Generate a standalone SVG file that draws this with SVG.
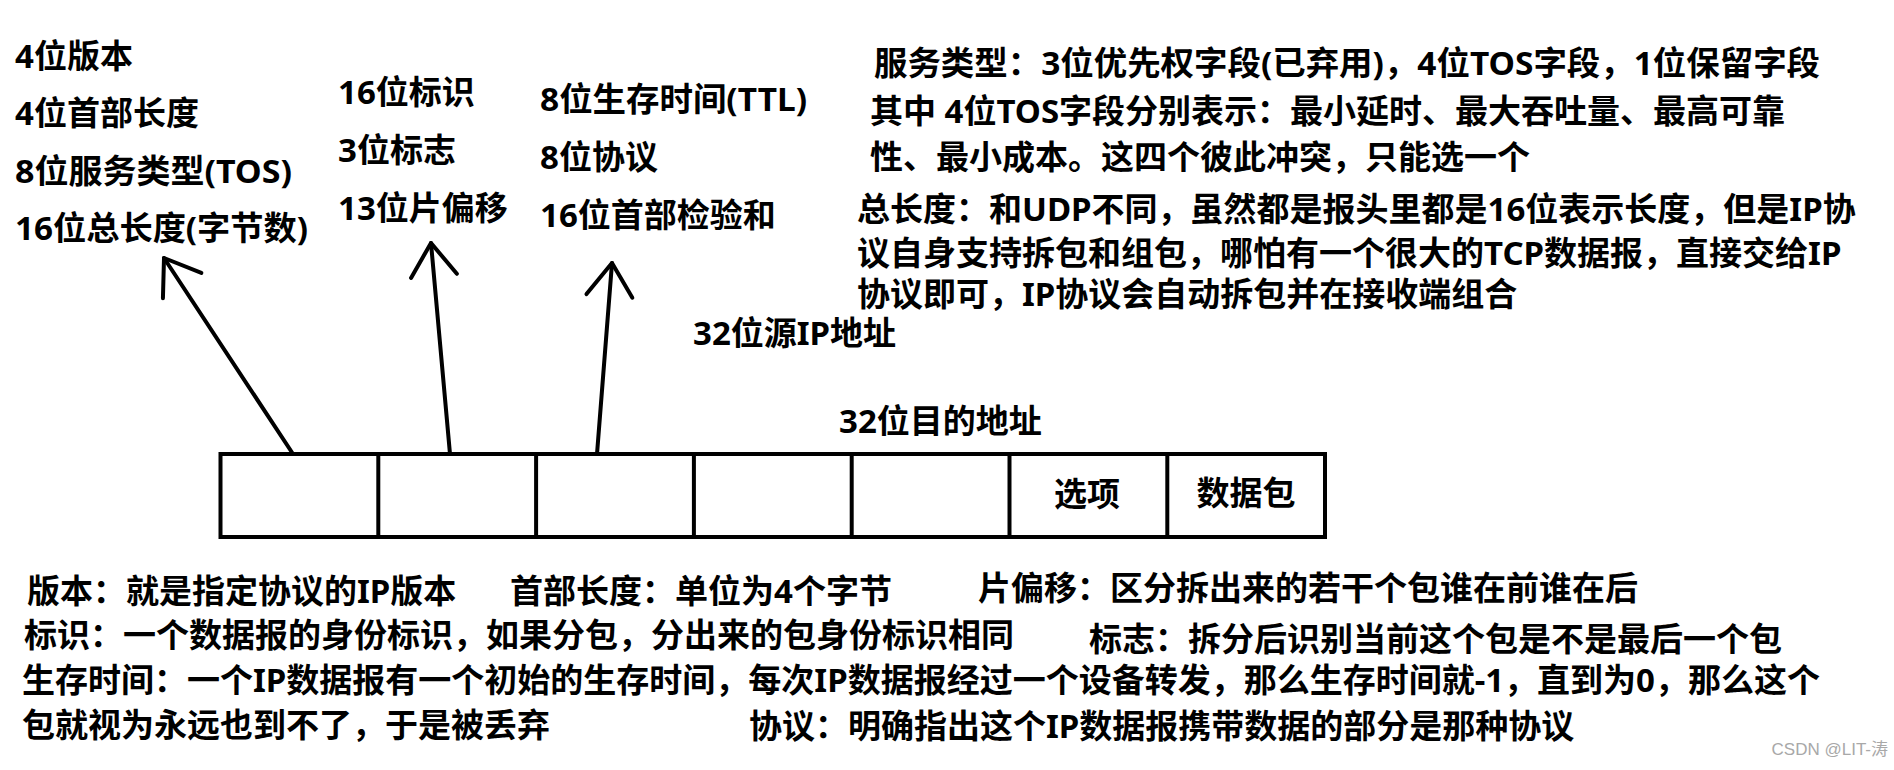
<svg xmlns="http://www.w3.org/2000/svg" width="1894" height="770" viewBox="0 0 1894 770">
<style>
  text { font-family: "Noto Sans", "Noto Sans CJK SC", sans-serif; font-weight: bold; font-size: 33px; fill: #000; }
  .cell { fill: #fff; stroke: #000; stroke-width: 4; }
  .div { stroke: #000; stroke-width: 4; }
  .arrow { fill: none; stroke: #000; stroke-width: 4; stroke-linecap: round; }
  .mark { font-family: "Liberation Sans", "Noto Sans CJK SC", sans-serif; font-weight: normal; font-size: 17px; fill: #a8a8a8; }
</style>
<defs>
  <marker id="vhead" markerUnits="userSpaceOnUse" viewBox="-40 -28 46 56" refX="0" refY="0" markerWidth="46" markerHeight="56" orient="auto" overflow="visible">
    <path d="M -33 -23 L 0 0 L -33 23" fill="none" stroke="#000" stroke-width="4" stroke-linecap="round" stroke-linejoin="round"/>
  </marker>
</defs>
<rect width="1894" height="770" fill="#fff"/>

<g id="labels-col1">
  <text x="15" y="67.5">4位版本</text>
  <text x="15" y="125">4位首部长度</text>
  <text x="15" y="182.5" textLength="277" lengthAdjust="spacingAndGlyphs">8位服务类型(TOS)</text>
  <text x="15" y="240" textLength="293" lengthAdjust="spacingAndGlyphs">16位总长度(字节数)</text>
</g>
<g id="labels-col2">
  <text x="338" y="104">16位标识</text>
  <text x="338" y="162">3位标志</text>
  <text x="338" y="220">13位片偏移</text>
</g>
<g id="labels-col3">
  <text x="540" y="111" textLength="267" lengthAdjust="spacingAndGlyphs">8位生存时间(TTL)</text>
  <text x="540" y="169">8位协议</text>
  <text x="540" y="226.5">16位首部检验和</text>
</g>
<g id="label-src">
  <text x="693" y="345">32位源IP地址</text>
</g>
<g id="label-dst">
  <text x="839" y="433">32位目的地址</text>
</g>

<g id="note-tos">
  <text x="874" y="75" textLength="946" lengthAdjust="spacingAndGlyphs">服务类型：3位优先权字段(已弃用)，4位TOS字段，1位保留字段</text>
  <text x="870" y="123">其中 4位TOS字段分别表示：最小延时、最大吞吐量、最高可靠</text>
  <text x="870" y="169">性、最小成本。这四个彼此冲突，只能选一个</text>
</g>
<g id="note-totallen">
  <text x="857" y="221">总长度：和UDP不同，虽然都是报头里都是16位表示长度，但是IP协</text>
  <text x="857" y="264.5">议自身支持拆包和组包，哪怕有一个很大的TCP数据报，直接交给IP</text>
  <text x="857" y="305.5">协议即可，IP协议会自动拆包并在接收端组合</text>
</g>

<g id="packet">
  <rect class="cell" x="220.5" y="454" width="1104.5" height="83"/>
  <line class="div" x1="378.3" y1="454" x2="378.3" y2="537"/>
  <line class="div" x1="536.1" y1="454" x2="536.1" y2="537"/>
  <line class="div" x1="693.9" y1="454" x2="693.9" y2="537"/>
  <line class="div" x1="851.7" y1="454" x2="851.7" y2="537"/>
  <line class="div" x1="1009.5" y1="454" x2="1009.5" y2="537"/>
  <line class="div" x1="1167.3" y1="454" x2="1167.3" y2="537"/>
  <g id="cell-options"><text x="1087" y="506" text-anchor="middle">选项</text></g>
  <g id="cell-data"><text x="1246" y="505" text-anchor="middle">数据包</text></g>
</g>

<g id="connectors">
  <line class="arrow" x1="293" y1="454" x2="164" y2="258" marker-end="url(#vhead)"/>
  <line class="arrow" x1="450" y1="454" x2="431" y2="243" marker-end="url(#vhead)"/>
  <line class="arrow" x1="597" y1="454" x2="612" y2="263" marker-end="url(#vhead)"/>
</g>

<g id="notes-bottom">
  <text x="27" y="603">版本：就是指定协议的IP版本</text>
  <text x="510" y="603">首部长度：单位为4个字节</text>
  <text x="978" y="600">片偏移：区分拆出来的若干个包谁在前谁在后</text>
  <text x="24" y="647">标识：一个数据报的身份标识，如果分包，分出来的包身份标识相同</text>
  <text x="1089" y="651">标志：拆分后识别当前这个包是不是最后一个包</text>
  <text x="22" y="692">生存时间：一个IP数据报有一个初始的生存时间，每次IP数据报经过一个设备转发，那么生存时间就-1，直到为0，那么这个</text>
  <text x="22" y="737">包就视为永远也到不了，于是被丢弃</text>
  <text x="749" y="738">协议：明确指出这个IP数据报携带数据的部分是那种协议</text>
</g>

<g id="watermark">
  <text class="mark" x="1888" y="755" text-anchor="end">CSDN @LIT-涛</text>
</g>
</svg>
